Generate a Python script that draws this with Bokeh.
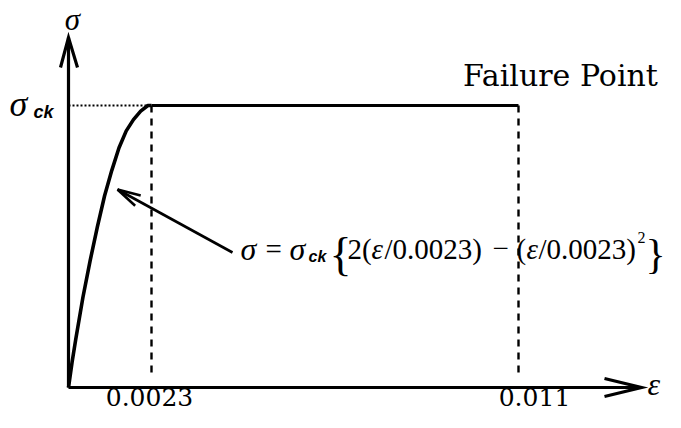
import numpy as np
from bokeh.plotting import figure
from bokeh.models import Range1d
from bokeh.core.properties import value
from bokeh.embed import file_html
from bokeh.resources import INLINE

# ---- data ----
strain_curve = [0, 0.0001, 0.0002, 0.0004, 0.0006, 0.0008, 0.0010, 0.0012,
                0.0014, 0.0016, 0.0018, 0.0020, 0.0022, 0.0023]
stress_curve = [0, 0.09, 0.17, 0.32, 0.45, 0.57, 0.68, 0.77,
                0.85, 0.91, 0.95, 0.98, 1.0, 1.0]
strain_plateau = [0.0023, 0.011]
stress_plateau = [1.0, 1.0]
tick_strains = [0.0023, 0.011]
tick_labels = ["0.0023", "0.011"]

# schematic (not to scale) strain axis: piecewise-linear display coordinate
BREAKS_STRAIN = [0.0, 0.0023, 0.011]
BREAKS_DISPLAY = [0.0, 1.0, 5.4217]


def xd(eps):
    return np.interp(np.asarray(eps, dtype=float), BREAKS_STRAIN, BREAKS_DISPLAY)


# layout constants (pixel frame of the drawing)
W, H = 665, 412
X0, SX = 68.0, 83.0    # x of origin, px per display unit
Y0, SY = 387.0, 282.0  # y of origin, px per unit of sigma/sigma_ck
TSHIFT = 12            # text baseline correction


def px(ix):
    return (ix - X0) / SX


def py(iy):
    return (Y0 - iy) / SY


p = figure(width=W, height=H, output_backend="svg", toolbar_location=None,
           x_range=Range1d(px(0), px(W)), y_range=Range1d(py(H), py(0)),
           x_axis_location=None, y_axis_location=None, min_border=0)
p.grid.visible = False
p.outline_line_color = None
p.background_fill_color = "white"
p.border_fill_color = "white"

INK = "black"

# axes with open arrowheads
y_tip = py(37)
x_tip = px(641)
p.line([0, 0], [0, y_tip], line_color=INK, line_width=3.2)
p.line([0, x_tip], [0, 0], line_color=INK, line_width=3.2)
p.multi_line(xs=[[px(60), 0, px(77)], [px(604), x_tip, px(604)]],
             ys=[[py(67), y_tip, py(67)], [py(378), 0, py(396)]],
             line_color=INK, line_width=3.2, line_join="miter")

# guide lines
p.line([0, float(xd(tick_strains[0]))], [stress_plateau[0]] * 2, line_color=INK,
       line_width=2, line_dash="2 2")
for s in tick_strains:
    xv = float(xd(s))
    p.line([xv, xv], [stress_plateau[0], 0.04], line_color=INK, line_width=2.4,
           line_dash="7 6")

# stress-strain curve
p.line(xd(strain_curve), stress_curve, line_color=INK, line_width=3.6,
       line_join="round")
p.line(xd(strain_plateau), stress_plateau, line_color=INK, line_width=3.2)

# annotation arrow pointing at the curve
tip = np.array([117.0, 189.0])
tail = np.array([232.0, 252.0])
p.line([px(tip[0]), px(tail[0])], [py(tip[1]), py(tail[1])], line_color=INK,
       line_width=2.6)
d = (tail - tip) / np.linalg.norm(tail - tip)
wxs, wys = [], []
for ang in (np.radians(14), np.radians(-14)):
    r = np.array([d[0] * np.cos(ang) - d[1] * np.sin(ang),
                  d[0] * np.sin(ang) + d[1] * np.cos(ang)])
    e = tip + 24 * r
    wxs.append([px(e[0]), px(tip[0])])
    wys.append([py(e[1]), py(tip[1])])
p.multi_line(xs=wxs, ys=wys, line_color=INK, line_width=2.6)

SERIF = value("Liberation Serif")
SERIF2 = value("DejaVu Serif")
SANS = value("Liberation Sans")


def txt(ix, iy, s, font=SERIF, size=30, style="normal", align="left"):
    p.text(x=[px(ix)], y=[py(iy - TSHIFT)], text=[s], text_font=font,
           text_font_size=f"{size}px", text_font_style=style,
           text_align=align, text_baseline="alphabetic", text_color=INK)


# axis labels
txt(72, 31, "σ", size=31, style="italic", align="center")
txt(9, 115, "σ", size=36, style="italic")
txt(33, 123, "ck", font=SANS, size=18, style="bold italic")
txt(647, 395, "ε", size=32, style="italic")

# tick labels (strain values)
p.text(x=xd(tick_strains), y=[py(408 - TSHIFT)] * 2, text=tick_labels,
       text_font=SERIF2, text_font_size="25px", text_align="center",
       text_baseline="alphabetic", x_offset=[-2, 16], text_color=INK)

txt(560, 87, "Failure Point", font=SERIF2, size=30, align="center")

# formula
F = 29
txt(240, 260, "σ", size=32, style="italic")
txt(265, 260, "=", size=F)
txt(289, 260, "σ", size=32, style="italic")
txt(308, 268, "ck", font=SANS, size=16, style="bold italic")
txt(329, 266, "{", size=46)
txt(347, 260, "2(", size=F)
txt(371, 260, "ε", size=F, style="italic")
txt(384, 260, "/0.0023)", size=F)
txt(492, 260, "−", size=F)
txt(516, 260, "(", size=F)
txt(526, 260, "ε", size=F, style="italic")
txt(538, 260, "/0.0023)", size=F)
txt(637, 249, "2", size=16)
txt(645, 265, "}", size=42)

open("out.html", "w").write(file_html(p, INLINE))
